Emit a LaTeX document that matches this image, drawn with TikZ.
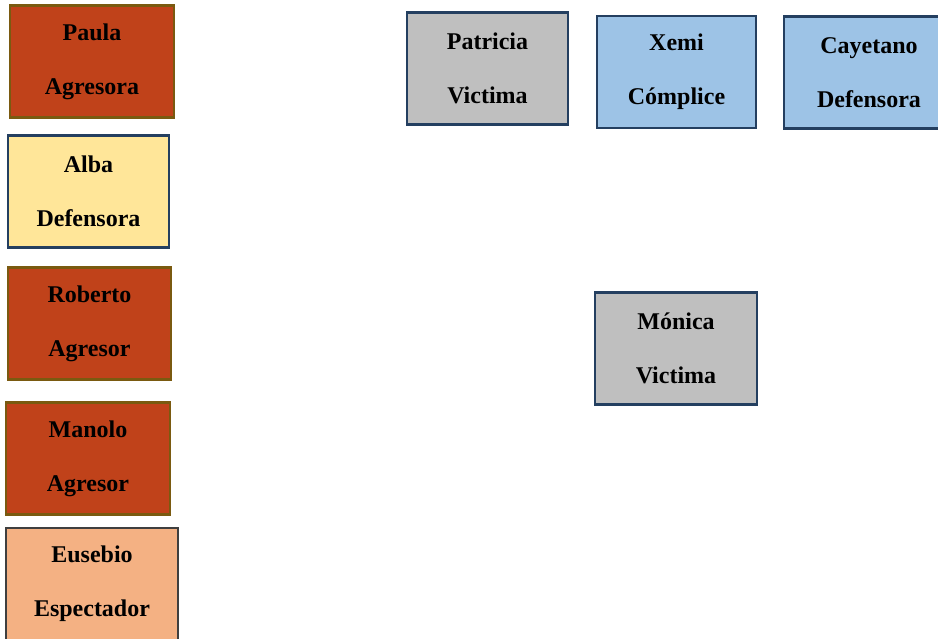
\documentclass[tikz,border=0pt]{standalone}
\usepackage{fontspec}
\setmainfont{Liberation Serif}
\usepackage{xcolor}
\definecolor{Rust}{HTML}{C0421A}
\definecolor{RustLine}{HTML}{7A5A10}
\definecolor{Sand}{HTML}{FFE699}
\definecolor{Peach}{HTML}{F4B183}
\definecolor{Silver}{HTML}{BFBFBF}
\definecolor{Sky}{HTML}{9DC3E6}
\definecolor{Navy}{HTML}{243F60}
\definecolor{Slate}{HTML}{3F3F3F}

\begin{document}
\begin{tikzpicture}[x=1pt,y=-1pt,
    rol/.style={rectangle,line width=2.4pt,minimum width=162pt,minimum height=112pt,
      align=center,font=\fontsize{24}{54}\selectfont\bfseries,inner sep=0pt},
    agresor/.style={rol,fill=Rust,draw=RustLine},
    defensor/.style={rol,fill=Sand,draw=Navy},
    espectador/.style={rol,fill=Peach,draw=Slate},
    victima/.style={rol,fill=Silver,draw=Navy},
    complice/.style={rol,fill=Sky,draw=Navy}]
    \useasboundingbox (0,0) rectangle (938,639);
    \clip (0,0) rectangle (938,639);
    % left column
    \node[agresor,minimum width=164pt]    (paula)    at (92,61.5)    {Paula\\Agresora};
    \node[defensor,minimum width=161pt]   (alba)     at (88.5,191.5) {Alba\\Defensora};
    \node[agresor,minimum width=163pt]    (roberto)  at (89.5,323.5) {Roberto\\Agresor};
    \node[agresor,minimum width=164pt]    (manolo)   at (88,458.5)   {Manolo\\Agresor};
    \node[espectador,minimum width=172pt] (eusebio)  at (92,584)     {Eusebio\\Espectador};
    % right group
    \node[victima,minimum width=161pt]    (patricia) at (487.5,68.5) {Patricia\\Victima};
    \node[complice,minimum width=159pt]   (xemi)     at (676.5,72)   {Xemi\\Cómplice};
    \node[complice,minimum width=170pt]   (cayetano) at (869,72.5)   {Cayetano\\Defensora};
    \node[victima,minimum width=162pt]    (monica)   at (676,348.5)  {Mónica\\Victima};
  \end{tikzpicture}
\end{document}
